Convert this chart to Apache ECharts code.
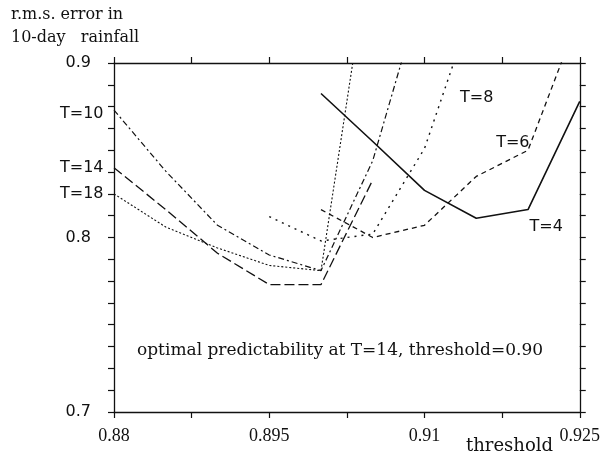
<!DOCTYPE html>
<html>
<head>
<meta charset="utf-8">
<script src="https://cdn.jsdelivr.net/npm/echarts@6/dist/echarts.min.js"></script>
<style>html,body{margin:0;padding:0;background:#fff}#c{width:603px;height:467px}</style>
</head>
<body>
<div id="c"></div>
<script>
// thresholds where each series is sampled
const xT4  = [0.900, 0.905, 0.910, 0.915, 0.920, 0.925];
const yT4  = [0.8825, 0.855, 0.827, 0.811, 0.816, 0.878];
const xT6  = [0.900, 0.905, 0.910, 0.915, 0.920, 0.925];
const yT6  = [0.816, 0.800, 0.807, 0.835, 0.850, 0.928];
const xT8  = [0.895, 0.900, 0.905, 0.910, 0.915];
const yT8  = [0.812, 0.798, 0.802, 0.851, 0.938];
const xT10 = [0.880, 0.885, 0.890, 0.895, 0.900, 0.905, 0.910];
const yT10 = [0.873, 0.838, 0.807, 0.790, 0.781, 0.844, 0.946];
const xT14 = [0.880, 0.885, 0.890, 0.895, 0.900, 0.905];
const yT14 = [0.840, 0.816, 0.791, 0.773, 0.773, 0.833];
const xT18 = [0.880, 0.885, 0.890, 0.895, 0.900, 0.905];
const yT18 = [0.825, 0.806, 0.794, 0.784, 0.781, 0.975];

const xMin = 0.88, xMax = 0.925, xStep = 0.0075;
const xLabels = ['0.88', '0.895', '0.91', '0.925'];
const yMin = 0.7, yMax = 0.9, yStep = 0.0125;
const yLabels = ['0.7', '0.8', '0.9'];

const chart = echarts.init(document.getElementById('c'), null, {renderer: 'canvas'});

// x axis is drawn in thousandths above 0.88 so that ticks start at the axis min
const toX = t => Math.round((t - xMin) * 100000) / 100;

const sansFont = 'DejaVu Sans';
const serifFont = 'Liberation Serif';

function mk(name, xs, ys, dash, width, labelIdx, labelOpt) {
  const data = xs.map((x, i) => {
    const d = {value: [toX(x), ys[i]]};
    if (i === labelIdx) {
      d.label = Object.assign({show: true, formatter: name, color: '#111',
        fontFamily: sansFont, fontSize: 16}, labelOpt);
    }
    return d;
  });
  return {
    type: 'line', name: name, data: data, silent: true,
    symbol: 'circle', symbolSize: 1, showSymbol: true,
    itemStyle: {color: 'rgba(0,0,0,0)'},
    lineStyle: {color: '#111', width: width, type: dash},
    emphasis: {disabled: true}, animation: false, clip: true
  };
}

const axisLine = {show: true, onZero: false, lineStyle: {color: '#111', width: 1.3}};
const tick = {show: true, inside: false, length: 6, lineStyle: {color: '#111', width: 1.2}};

const option = {
  animation: false,
  grid: {left: 114, right: 20, top: 63, bottom: 55, containLabel: false},
  xAxis: [
    {type: 'value', min: 0, max: toX(xMax), interval: xStep * 1000, position: 'bottom',
     axisLine: axisLine, axisTick: tick, splitLine: {show: false},
     axisLabel: {color: '#111', fontFamily: serifFont, fontSize: 18, margin: 15,
       formatter: v => { const s = String(+(xMin + v / 1000).toFixed(4)); return xLabels.indexOf(s) >= 0 ? s : ''; }}},
    {type: 'value', min: 0, max: toX(xMax), interval: xStep * 1000, position: 'top',
     axisLine: axisLine, axisTick: tick, splitLine: {show: false}, axisLabel: {show: false}}
  ],
  yAxis: [
    {type: 'value', min: yMin, max: yMax, interval: yStep, position: 'left',
     axisLine: axisLine, axisTick: tick, splitLine: {show: false},
     axisLabel: {color: '#111', fontFamily: sansFont, fontSize: 16, margin: 23,
       formatter: v => { const s = String(+v.toFixed(4)); return yLabels.indexOf(s) >= 0 ? s : ''; }}},
    {type: 'value', min: yMin, max: yMax, interval: yStep, position: 'right',
     axisLine: axisLine, axisTick: tick, splitLine: {show: false}, axisLabel: {show: false}}
  ],
  series: [
    mk('T=4', xT4, yT4, 'solid', 1.6, 4, {position: 'right', distance: 0, offset: [1, 17]}),
    mk('T=6', xT6, yT6, [5, 4], 1.3, 4, {position: 'left', distance: 0, offset: [2, -7]}),
    mk('T=8', xT8, yT8, [2, 5], 1.4, 3, {position: 'right', distance: 5, offset: [30, -51]}),
    mk('T=10', xT10, yT10, [6, 3, 2, 3], 1.2, 0, {position: 'left', distance: 10, offset: [0, 4]}),
    mk('T=14', xT14, yT14, [10, 4], 1.3, 0, {position: 'left', distance: 10, offset: [0, 0]}),
    mk('T=18', xT18, yT18, [2, 2], 1.1, 0, {position: 'left', distance: 10, offset: [0, 0]})
  ],
  graphic: [
    {type: 'text', left: 11, top: 3, silent: true,
     style: {text: 'r.m.s. error in\n10-day   rainfall', fill: '#111', font: '16px "DejaVu Serif"', lineHeight: 23}},
    {type: 'text', left: 466, top: 437, silent: true,
     style: {text: 'threshold', fill: '#111', font: '18px "DejaVu Serif"'}},
    {type: 'text', left: 137, top: 342, silent: true,
     style: {text: 'optimal predictability at T=14, threshold=0.90', fill: '#111', font: '17px "DejaVu Serif"'}}
  ]
};
chart.setOption(option);
</script>
</body>
</html>
